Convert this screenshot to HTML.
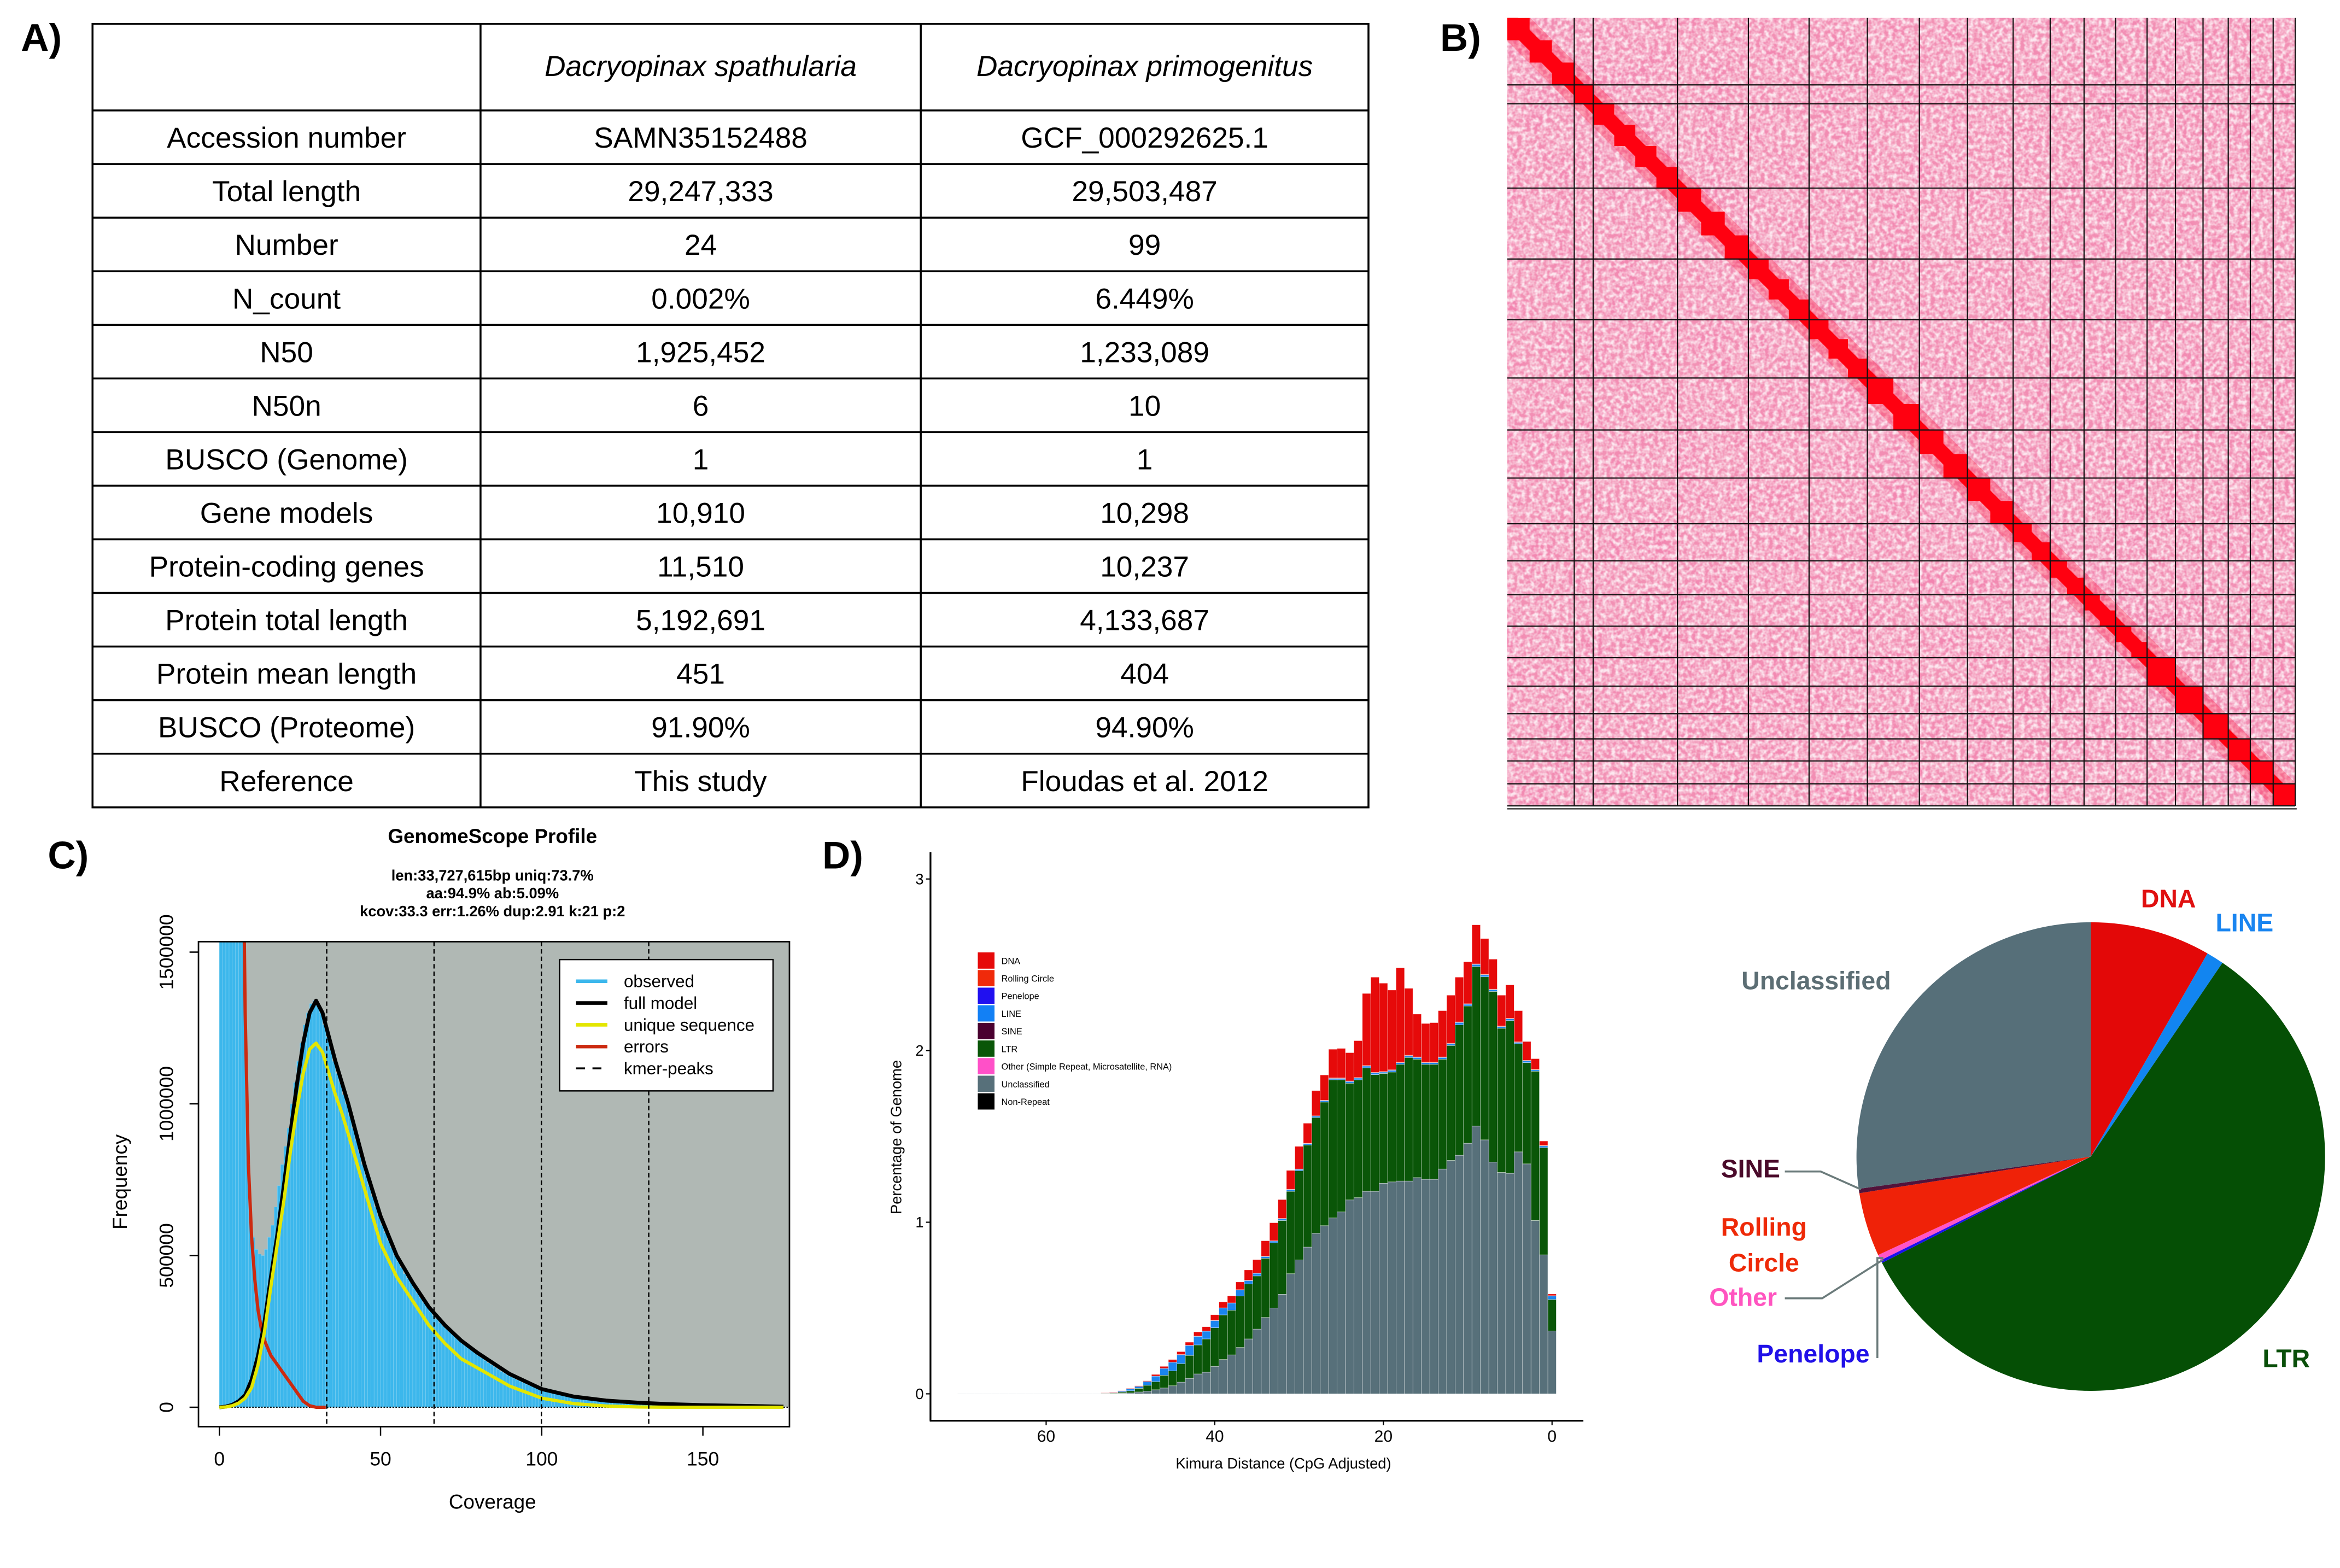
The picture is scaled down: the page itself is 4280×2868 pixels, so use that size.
<!DOCTYPE html>
<html><head><meta charset="utf-8">
<style>
html,body{margin:0;padding:0;background:#fff;}
svg{display:block;font-family:"Liberation Sans",Arial,sans-serif;}
</style></head>
<body>
<svg id="fig" width="4280" height="2868" viewBox="0 0 1568 1050.7" xmlns="http://www.w3.org/2000/svg">
<defs>
  <filter id="noise" x="0" y="0" width="100%" height="100%">
    <feTurbulence type="fractalNoise" baseFrequency="0.35" numOctaves="2" seed="4" result="t"/>
    <feColorMatrix type="matrix" values="0 0 0 0 1  0 0 0 0 1  0 0 0 0 1  0 0 0 -2.4 1.6" />
  </filter>
  <filter id="noise2" x="0" y="0" width="100%" height="100%">
    <feTurbulence type="fractalNoise" baseFrequency="0.05" numOctaves="2" seed="9"/>
    <feColorMatrix type="matrix" values="0 0 0 0 0.9  0 0 0 0 0.1  0 0 0 0 0.35  0 0 0 -1.6 1.0" />
  </filter>
  <clipPath id="clipC"><rect x="133" y="631" width="396" height="325"/></clipPath>
  <clipPath id="clipHic"><rect x="1010" y="12" width="528" height="528"/></clipPath>
</defs>

<text x="14" y="34" font-size="26" font-weight="bold">A)</text>
<text x="965" y="34" font-size="26" font-weight="bold">B)</text>
<text x="32" y="582" font-size="26" font-weight="bold">C)</text>
<text x="551" y="582" font-size="26" font-weight="bold">D)</text>

<g id="table"></g>
<g id="hic"></g>
<g id="gs"></g>
<g id="rl"></g>
<g id="pie"></g>
</svg>
<script>
var NS="http://www.w3.org/2000/svg";
function mk(parent,tag,attrs,txt){var e=document.createElementNS(NS,tag);for(var k in attrs)e.setAttribute(k,attrs[k]);if(txt!==undefined)e.textContent=txt;parent.appendChild(e);return e;}

/* ================= TABLE ================= */
var tblHeader=["","Dacryopinax spathularia","Dacryopinax primogenitus"];
var tblRows=[
["Accession number","SAMN35152488","GCF_000292625.1"],
["Total length","29,247,333","29,503,487"],
["Number","24","99"],
["N_count","0.002%","6.449%"],
["N50","1,925,452","1,233,089"],
["N50n","6","10"],
["BUSCO (Genome)","1","1"],
["Gene models","10,910","10,298"],
["Protein-coding genes","11,510","10,237"],
["Protein total length","5,192,691","4,133,687"],
["Protein mean length","451","404"],
["BUSCO (Proteome)","91.90%","94.90%"],
["Reference","This study","Floudas et al. 2012"]];
(function(){
var g=document.getElementById('table');
var cx=[62,322,617,917], rh=(541-74)/13;
var border=mk(g,'rect',{x:62,y:16,width:855,height:525,fill:'none',stroke:'#000','stroke-width':1.3});


for(var i=1;i<3;i++){var l=mk(g,'line',{x1:cx[i],y1:16,x2:cx[i],y2:541,stroke:'#000','stroke-width':1.3});

}
for(var r=0;r<13;r++){var y=74+r*rh;var l2=mk(g,'line',{x1:62,y1:y,x2:917,y2:y,stroke:'#000','stroke-width':1.3});

}
for(var c=1;c<3;c++){var t=mk(g,'text',{x:(cx[c]+cx[c+1])/2,y:51,'font-size':19.5,'font-style':'italic','text-anchor':'middle'},tblHeader[c]);

}
for(var r=0;r<13;r++){for(var c=0;c<3;c++){var t2=mk(g,'text',{x:(cx[c]+cx[c+1])/2,y:74+r*rh+rh/2+7,'font-size':19.5,'text-anchor':'middle'},tblRows[r][c]);

}}
})();

/* ================= HI-C ================= */
var hicBounds=[0,0.085,0.109,0.216,0.306,0.383,0.457,0.523,0.584,0.642,0.689,0.732,0.772,0.812,0.848,0.883,0.915,0.943,0.972,1.0];
(function(){
var g=document.getElementById('hic');
var X=1010,Y=12,S=528;
var bg=mk(g,'rect',{x:X,y:Y,width:S,height:S,fill:'#f292b5'});


var n2=mk(g,'rect',{x:X,y:Y,width:S,height:S,filter:'url(#noise2)',opacity:0.3});


var n1=mk(g,'rect',{x:X,y:Y,width:S,height:S,filter:'url(#noise)',opacity:0.8});


var cg=mk(g,'g',{'clip-path':'url(#clipHic)'});
var d2=mk(cg,'line',{x1:X,y1:Y,x2:X+S,y2:Y+S,stroke:'#ff1a40','stroke-width':22,opacity:0.3});


for(var i=0;i<hicBounds.length-1;i++){
 var a=hicBounds[i],b=hicBounds[i+1];
 var n=Math.max(1,Math.round((b-a)*S/14));
 for(var j=0;j<n;j++){
  var p0=a+(b-a)*j/n, sz=(b-a)/n;
  var blk=mk(cg,'rect',{x:X+p0*S,y:Y+p0*S,width:sz*S,height:sz*S,fill:'#ff0010'});
  
  
 }
}
var d=mk(cg,'line',{x1:X,y1:Y,x2:X+S,y2:Y+S,stroke:'#ff0010','stroke-width':10});


for(var i=1;i<hicBounds.length;i++){
 var p=hicBounds[i];
 var v=mk(g,'line',{x1:X+p*S,y1:Y,x2:X+p*S,y2:Y+S,stroke:'#111','stroke-width':0.8});
 
 
 var h=mk(g,'line',{x1:X,y1:Y+p*S,x2:X+S,y2:Y+p*S,stroke:'#111','stroke-width':0.8});
 
 
}
var bl=mk(g,'line',{x1:X,y1:Y+S+2,x2:X+S+1,y2:Y+S+2,stroke:'#111','stroke-width':0.8});


})();

/* ================= GENOMESCOPE ================= */
var obsStart=1;
var observed=[9000000,6000000,4500000,3500000,2800000,2200000,1900000,1600000,1050000,680000,
560000,520000,505000,500000,520000,560000,600000,660000,730000,800000,
860000,920000,1000000,1070000,1140000,1200000,1260000,1300000,1330000,1340000,
1330000,1300000,1260000,1220000,1180000,1140000,1100000,1070000,1030000,1000000,
960000,920000,880000,840000,800000,765000,730000,695000,660000,630000,
600000,575000,550000,525000,500000,480000,460000,440000,425000,410000,
392000,376000,360000,345000,330000,316000,302000,290000,278000,268000,
258000,248000,238000,228000,218000,210000,202000,194000,186000,178000,
170000,162000,154000,146000,139000,132000,125000,118000,112000,106000,
100000,95000,90000,85000,80000,75000,71000,67000,63000,60000,
57000,54000,51000,48000,46000,44000,42000,40000,38000,36000,
34000,32000,30500,29000,27500,26000,25000,24000,23000,22000,
21000,20000,19200,18400,17600,16800,16000,15400,14800,14200,
13600,13000,12500,12000,11500,11000,10600,10200,9800,9400,
9000,8700,8400,8100,7800,7500,7200,7000,6800,6600,
6400,6200,6000,5800,5600,5400,5200,5000,4800,4600,
4400,4200,4000,3800,3600,3400,3200,3000,2900,2800,2700,2600,2500,2400,2300];
var modelCov=[0,2,4,6,8,10,12,14,16,18,20,22,24,26,28,30,32,34,36,38,40,45,50,55,60,65,70,75,80,90,100,110,120,130,140,150,160,175];
var fullModel=[0,2000,8000,20000,40000,90000,170000,280000,430000,570000,730000,900000,1060000,1200000,1300000,1340000,1300000,1220000,1140000,1070000,1000000,800000,630000,500000,410000,330000,270000,220000,180000,110000,60000,35000,22000,15000,10000,7000,5000,2000];
var uniqueSeq=[0,1000,5000,14000,30000,65000,140000,250000,400000,540000,680000,840000,980000,1100000,1180000,1200000,1170000,1100000,1030000,970000,900000,720000,540000,430000,350000,270000,210000,160000,130000,70000,30000,12000,4000,1000,0,0,0,0];
var errCov=[7,8,9,10,11,12,13,14,16,18,20,22,24,26,28,30,33];
var errVals=[2200000,1300000,800000,560000,420000,320000,260000,220000,170000,140000,110000,80000,50000,20000,5000,0,0];
var kmerPeaks=[33.3,66.6,99.9,133.2];
var gsXTicks=[0,50,100,150];
var gsYTicks=[0,500000,1000000,1500000];
(function(){
var g=document.getElementById('gs');
function sx(v){return 147+v*108/50;}
function sy(v){return 943-v*(305/1500000);}
var bx=133,by=631,bw=396,bh=325;
var wb=mk(g,'rect',{x:bx,y:by,width:bw,height:bh,fill:'#fff'});


var gr=mk(g,'rect',{x:sx(0),y:by,width:bx+bw-sx(0),height:sy(0)-by,fill:'#b0b8b4'});


var cg=mk(g,'g',{'clip-path':'url(#clipC)'});
for(var i=0;i<observed.length;i++){
 var c=obsStart+i, v=observed[i];
 var r=mk(cg,'rect',{x:sx(c-1),y:sy(v),width:108/50,height:sy(0)-sy(v),fill:'#3cb7ec',stroke:'#7fcff0','stroke-width':0.25});
 
 
}
var zl=mk(cg,'line',{x1:sx(0),y1:sy(0),x2:bx+bw,y2:sy(0),stroke:'#000','stroke-width':0.8,'stroke-dasharray':'1 1'});


function path(xs,ys){var d='';for(var i=0;i<xs.length;i++){d+=(i?'L':'M')+sx(xs[i]).toFixed(2)+','+sy(ys[i]).toFixed(2);}return d;}
var er=mk(cg,'path',{d:path(errCov,errVals),fill:'none',stroke:'#cc2a10','stroke-width':2.2,'stroke-linejoin':'round'});


var fm=mk(cg,'path',{d:path(modelCov,fullModel),fill:'none',stroke:'#000','stroke-width':2.6,'stroke-linejoin':'round'});


var us=mk(cg,'path',{d:path(modelCov,uniqueSeq),fill:'none',stroke:'#e3e600','stroke-width':2.2,'stroke-linejoin':'round'});


for(var i=0;i<kmerPeaks.length;i++){
 var k=mk(g,'line',{x1:sx(kmerPeaks[i]),y1:by,x2:sx(kmerPeaks[i]),y2:by+bh,stroke:'#000','stroke-width':0.9,'stroke-dasharray':'3 2'});
 
 
}
var fr=mk(g,'rect',{x:bx,y:by,width:bw,height:bh,fill:'none',stroke:'#000','stroke-width':1});


for(var i=0;i<gsXTicks.length;i++){
 var x=sx(gsXTicks[i]);
 var t=mk(g,'line',{x1:x,y1:by+bh,x2:x,y2:by+bh+6,stroke:'#000','stroke-width':0.9});
 
 
 var tl=mk(g,'text',{x:x,y:982,'font-size':13,'text-anchor':'middle'},String(gsXTicks[i]));
 
 
}
for(var i=0;i<gsYTicks.length;i++){
 var y=sy(gsYTicks[i]);
 var t=mk(g,'line',{x1:bx-6,y1:y,x2:bx,y2:y,stroke:'#000','stroke-width':0.9});
 
 
 var tl=mk(g,'text',{x:0,y:0,'font-size':13,'text-anchor':'middle',transform:'translate(116,'+y+') rotate(-90)'},String(gsYTicks[i]));
 
 
}
var xt=mk(g,'text',{x:330,y:1011,'font-size':13.5,'text-anchor':'middle'},'Coverage');


var yt=mk(g,'text',{x:0,y:0,'font-size':13.5,'text-anchor':'middle',transform:'translate(85,792) rotate(-90)'},'Frequency');


var tt=mk(g,'text',{x:330,y:565,'font-size':13.5,'font-weight':'bold','text-anchor':'middle'},'GenomeScope Profile');


var subs=['len:33,727,615bp uniq:73.7%','aa:94.9% ab:5.09%','kcov:33.3 err:1.26%  dup:2.91  k:21 p:2'];
for(var i=0;i<3;i++){var s=mk(g,'text',{x:330,y:590+i*12,'font-size':10,'font-weight':'bold','text-anchor':'middle'},subs[i]);

}
var lg=mk(g,'rect',{x:375,y:643,width:143,height:88,fill:'#fff',stroke:'#000','stroke-width':0.9});


var ln=['observed','full model','unique sequence','errors','kmer-peaks'];
var lc=['#3cb7ec','#000','#e3e600','#cc2a10','#000'];
for(var i=0;i<5;i++){
 var y=657.5+i*14.6;
 var s=mk(g,'line',{x1:386,y1:y,x2:407,y2:y,stroke:lc[i],'stroke-width':2.4});
 if(i==4){s.setAttribute('stroke-dasharray','6 5');s.setAttribute('stroke-width','1.3');}
 
 
 var t=mk(g,'text',{x:418,y:y+4,'font-size':11.5},ln[i]);
 
 
}
})();

/* ================= REPEAT LANDSCAPE ================= */
var kimura=[0,1,2,3,4,5,6,7,8,9,10,11,12,13,14,15,16,17,18,19,20,21,22,23,24,25,26,27,28,29,30,31,32,33,34,35,36,37,38,39,40,41,42,43,44,45,46,47,48,49,50,51,52,53,54,55,56,57,58,59,60,61,62,63,64,65,66,67,68,69,70];
var unclassified=[0.366,0.81,1.01,1.34,1.41,1.285,1.29,1.35,1.48,1.56,1.46,1.39,1.36,1.31,1.25,1.25,1.26,1.24,1.24,1.235,1.227,1.18,1.18,1.143,1.13,1.06,1.025,0.98,0.935,0.855,0.78,0.70,0.58,0.50,0.445,0.377,0.32,0.27,0.227,0.20,0.16,0.126,0.116,0.09,0.068,0.047,0.034,0.024,0.016,0.011,0.005,0.003,0.002,0.001,0.001,0.001,0.001,0.001,0.001,0.001,0.001,0.001,0.001,0.001,0.001,0.001,0.001,0.001,0.001,0.001,0.001];
var ltr=[0.184,0.625,0.87,0.59,0.63,0.89,0.84,0.995,0.95,0.93,0.80,0.76,0.67,0.64,0.67,0.67,0.69,0.72,0.68,0.64,0.64,0.68,0.72,0.687,0.68,0.77,0.805,0.72,0.675,0.595,0.52,0.48,0.43,0.38,0.345,0.31,0.32,0.30,0.26,0.26,0.225,0.194,0.169,0.134,0.108,0.087,0.074,0.047,0.034,0.021,0.013,0.007,0.003,0.002,0,0,0,0,0,0,0,0,0,0,0,0,0,0,0,0,0];
var lineVals=[0.02,0.01,0.008,0.01,0.008,0.01,0.01,0.01,0.012,0.012,0.01,0.014,0.01,0.01,0.01,0.01,0.01,0.01,0.01,0.01,0.008,0.01,0.01,0.01,0.01,0.008,0.008,0.008,0.008,0.008,0.008,0.01,0.01,0.01,0.01,0.015,0.02,0.035,0.042,0.04,0.042,0.045,0.05,0.058,0.052,0.05,0.04,0.032,0.022,0.011,0.011,0.005,0.002,0.001,0,0,0,0,0,0,0,0,0,0,0,0,0,0,0,0,0];
var dnaVals=[0.01,0.025,0.062,0.11,0.182,0.195,0.18,0.175,0.208,0.228,0.245,0.261,0.28,0.27,0.23,0.225,0.25,0.39,0.55,0.465,0.515,0.555,0.42,0.215,0.165,0.172,0.167,0.147,0.147,0.117,0.132,0.11,0.11,0.105,0.09,0.078,0.06,0.045,0.041,0.035,0.033,0.025,0.025,0.018,0.017,0.016,0.012,0.01,0.004,0.004,0.003,0.003,0.003,0.002,0,0,0,0,0,0,0,0,0,0,0,0,0,0,0,0,0];
var rollingCircle=[0.002,0.003,0.003,0.003,0.003,0.003,0.003,0.003,0.003,0.003,0.003,0.003,0.003,0.003,0.003,0.003,0.003,0.003,0.003,0.003,0.003,0.003,0.003,0.003,0.003,0.003,0.003,0.003,0.002,0.002,0.002,0.002,0.002,0.002,0.002,0.002,0.002,0.002,0.001,0.001,0.001,0.001,0.001,0.001,0.001,0,0,0,0,0,0,0,0,0,0,0,0,0,0,0,0,0,0,0,0,0,0,0,0,0,0];
var rlSeriesNames=['DNA','Rolling Circle','Penelope','LINE','SINE','LTR','Other (Simple Repeat, Microsatellite, RNA)','Unclassified','Non-Repeat'];
var rlYTicks=[0,1,2,3];
var rlXTicks=[60,40,20,0];
(function(){
var g=document.getElementById('rl');
function sx(k){return 1040-k*5.65;}
function sy(v){return 934-v*115;}
var colors={unc:'#57707a',ltr:'#0a5608',line:'#1a85f0',rc:'#f02a0a',dna:'#e60a0a'};
var w=5.65;
for(var i=0;i<kimura.length;i++){
 var base=0;
 var segs=[['unc',unclassified[i],'bar-unclassified'],['ltr',ltr[i],'bar-ltr'],['line',lineVals[i],'bar-line'],['rc',rollingCircle[i],'bar-rolling-circle'],['dna',dnaVals[i],'bar-dna']];
 for(var s=0;s<segs.length;s++){
  var v=segs[s][1]; if(v<=0)continue;
  var r=mk(g,'rect',{x:sx(kimura[i])-w/2,y:sy(base+v),width:w,height:sy(base)-sy(base+v),fill:colors[segs[s][0]],stroke:'#ffffff','stroke-width':0.3,'stroke-opacity':0.6});
  
  
  base+=v;
 }
}
var ya=mk(g,'line',{x1:623.5,y1:571,x2:623.5,y2:952,stroke:'#000','stroke-width':1.2});


var xa=mk(g,'line',{x1:623,y1:952,x2:1061,y2:952,stroke:'#000','stroke-width':1.2});


for(var i=0;i<rlYTicks.length;i++){
 var y=sy(rlYTicks[i]);
 var t=mk(g,'line',{x1:620.5,y1:y,x2:623.5,y2:y,stroke:'#000','stroke-width':0.8});
 
 
 var tl=mk(g,'text',{x:619,y:y+3.5,'font-size':10,'text-anchor':'end'},String(rlYTicks[i]));
 
 
}
for(var i=0;i<rlXTicks.length;i++){
 var x=sx(rlXTicks[i]);
 var t=mk(g,'line',{x1:x,y1:952,x2:x,y2:955,stroke:'#000','stroke-width':0.8});
 
 
 var tl=mk(g,'text',{x:x,y:966,'font-size':11,'text-anchor':'middle'},String(rlXTicks[i]));
 
 
}
var xt=mk(g,'text',{x:860,y:984,'font-size':10,'text-anchor':'middle'},'Kimura Distance (CpG Adjusted)');


var yt=mk(g,'text',{x:0,y:0,'font-size':10,'text-anchor':'middle',transform:'translate(604,762) rotate(-90)'},'Percentage of Genome');


var lcol=['#e60a0a','#f02a0a','#2010f0','#1280f5','#4a0030','#0a5608','#ff50c8','#57707a','#000000'];
for(var i=0;i<rlSeriesNames.length;i++){
 var y=638+i*11.8;
 var s=mk(g,'rect',{x:655,y:y,width:11.6,height:11.3,fill:lcol[i],stroke:'#fff','stroke-width':0.4});
 
 
 var t=mk(g,'text',{x:671,y:y+8,'font-size':6},rlSeriesNames[i]);
 
 
}
})();

/* ================= PIE ================= */
var pieLabels=['DNA','LINE','LTR','Penelope','Other','Rolling Circle','SINE','Unclassified'];
var pieValues=[8.3,1.2,58.0,0.2,0.4,4.4,0.3,27.2];
(function(){
var g=document.getElementById('pie');
var cx=1401,cy=775,R=157;
var cols=['#e30808','#1285f0','#054f05','#1a10f0','#ff55c8','#ef2208','#52123a','#566f79'];
var total=0;for(var i=0;i<pieValues.length;i++)total+=pieValues[i];
var a0=0;
for(var i=0;i<pieValues.length;i++){
 var a1=a0+pieValues[i]/total*2*Math.PI;
 var x0=cx+R*Math.sin(a0),y0=cy-R*Math.cos(a0),x1=cx+R*Math.sin(a1),y1=cy-R*Math.cos(a1);
 var large=(a1-a0)>Math.PI?1:0;
 var p=mk(g,'path',{d:'M'+cx+','+cy+'L'+x0.toFixed(2)+','+y0.toFixed(2)+'A'+R+','+R+' 0 '+large+' 1 '+x1.toFixed(2)+','+y1.toFixed(2)+'Z',fill:cols[i]});
 
 
 a0=a1;
}
var leaders=[[1196,785,1220,785,1247,797],[1196,870,1221,870,1262,844],[1258,910,1258,843,1262,843]];
for(var i=0;i<leaders.length;i++){var L=leaders[i];
 var pl=mk(g,'polyline',{points:L.join(' '),fill:'none',stroke:'#6b7b7b','stroke-width':1.3});
 
 }
var labs=[['DNA',1453,608,'#e01010','middle'],['LINE',1504,624,'#1a85f0','middle'],['Unclassified',1217,663,'#5c6e74','middle'],['SINE',1173,789,'#4a0a2a','middle'],['Rolling',1182,828,'#ee2a08','middle'],['Circle',1182,852,'#ee2a08','middle'],['Other',1168,875,'#ff55c0','middle'],['Penelope',1215,913,'#2010e8','middle'],['LTR',1532,916,'#0a4f0a','middle']];
for(var i=0;i<labs.length;i++){var b=labs[i];
 var t=mk(g,'text',{x:b[1],y:b[2],'font-size':17,'font-weight':'bold',fill:b[3],'text-anchor':b[4]},b[0]);
 
 }
})();
</script>
</body></html>
